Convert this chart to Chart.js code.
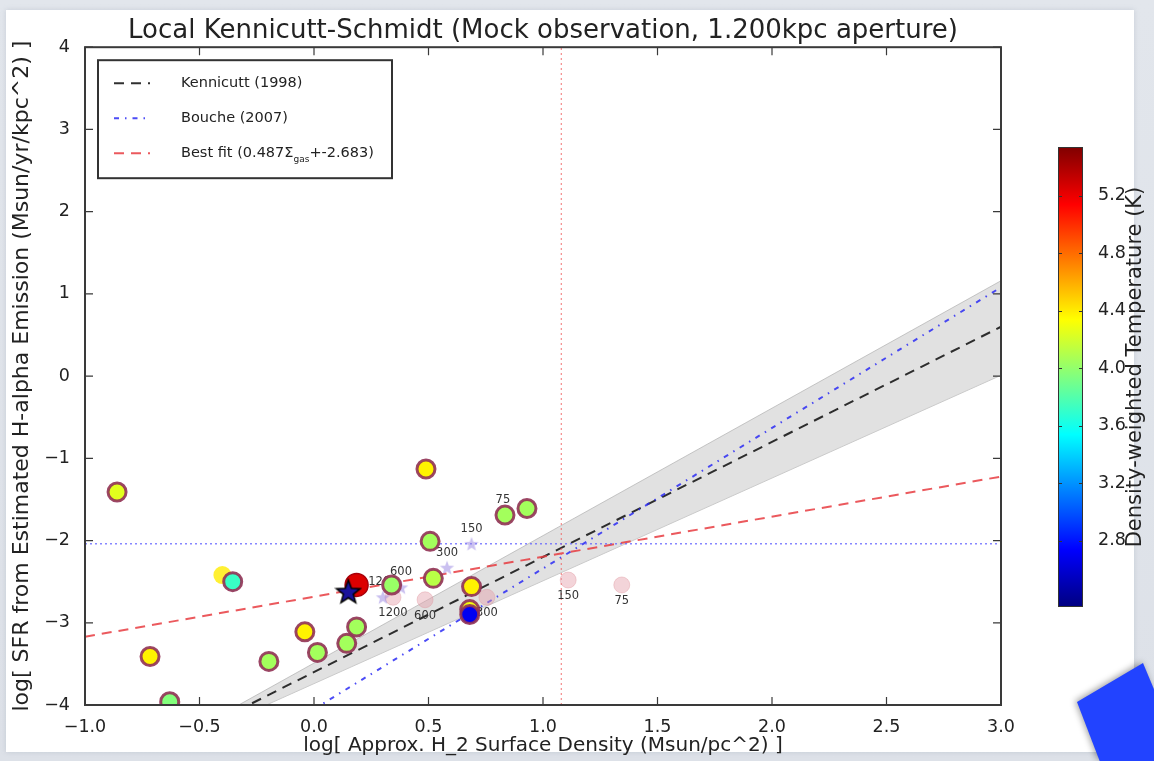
<!DOCTYPE html>
<html>
<head>
<meta charset="utf-8">
<title>Local Kennicutt-Schmidt</title>
<script src="https://cdn.jsdelivr.net/npm/chart.js@4/dist/chart.umd.min.js"></script>
<style>
  html, body { margin: 0; padding: 0; }
  body {
    width: 1154px; height: 761px; overflow: hidden; position: relative;
    background: linear-gradient(180deg, #e2e6ec 0%, #dde1e8 100%);
  }
  #sheet {
    position: absolute; left: 6px; top: 10px; width: 1128px; height: 742px;
    background: #fff; box-shadow: 0 0 5px rgba(120, 130, 150, 0.25);
  }
  canvas { position: absolute; left: 0; top: 0; }
  #tab {
    position: absolute; left: 0; top: 0; width: 1154px; height: 761px;
    background: #2243ff;
    clip-path: polygon(1077px 702px, 1143px 663px, 1190px 775px, 1105px 775px);
  }
  #tabShade {
    position: absolute; left: 0; top: 0; width: 1154px; height: 761px;
    filter: drop-shadow(-2px -1px 3px rgba(0, 0, 0, 0.35));
  }
</style>
</head>
<body>
<div id="sheet"></div>
<canvas id="ks" width="1154" height="761"></canvas>
<canvas id="cbar" width="1154" height="761"></canvas>
<div id="tabShade"><div id="tab"></div></div>
<script>
// axis ticks
const xTicks = [-1.0, -0.5, 0.0, 0.5, 1.0, 1.5, 2.0, 2.5, 3.0];
const yTicks = [-4, -3, -2, -1, 0, 1, 2, 3, 4];
const cbTicks = [2.8, 3.2, 3.6, 4.0, 4.4, 4.8, 5.2];

// mock apertures: log gas surface density, log SFR, density-weighted temperature
const cellX = [-0.86, -0.355, -0.716, -0.63, -0.197, -0.04, 0.015, 0.143, 0.186, 0.339, 0.507, 0.521, 0.489, 0.688, 0.68, 0.68, 0.834, 0.93];
const cellY = [-1.41, -2.50, -3.41, -3.96, -3.47, -3.11, -3.36, -3.25, -3.05, -2.54, -2.01, -2.46, -1.13, -2.56, -2.84, -2.90, -1.69, -1.61];
const cellT = [4.25, 3.72, 4.38, 3.95, 4.05, 4.38, 4.05, 4.05, 4.05, 4.02, 4.05, 4.12, 4.38, 4.38, 4.30, 2.70, 4.05, 4.05];

// one aperture plotted without an edge
const bareX = [-0.40];
const bareY = [-2.42];
const bareT = [4.40];

// the hot central aperture and the galaxy-wide value
const hotX = [0.186];
const hotY = [-2.54];
const hotT = [5.25];
const totalX = [0.15];
const totalY = [-2.62];

// aperture sizes (pc) of the faint comparison points
const sizeTags = ['75', '150', '300', '600', '1200'];
const starX = [0.825, 0.688, 0.581, 0.380, 0.301];
const starY = [-1.69, -2.04, -2.33, -2.57, -2.69];
const ringX = [1.344, 1.11, 0.755, 0.485, 0.345];
const ringY = [-2.54, -2.48, -2.69, -2.72, -2.69];

// relations
const kennX = [-1.0, 3.0];
const kennY = [-5.0, 0.6];
const bandX = [-1.0, 3.0];
const bandHi = [-5.04, 1.16];
const bandLo = [-4.99, 0.01];
const boucheX = [0.0, 3.0];
const boucheY = [-4.05, 1.08];
const fitX = [-1.0, 3.0];
const fitY = [-3.170, -1.222];
const sfrCutX = [-1.0, 3.0];
const sfrCutY = [-2.04, -2.04];
const gasCutX = [1.08, 1.08];
const gasCutY = [-4.0, 4.0];

const cbMin = 2.34, cbMax = 5.54;
const FONT = "'DejaVu Sans', 'Liberation Sans', sans-serif";
const INK = '#222';

function jet(v, a = 1) {
  const t = (v - cbMin) / (cbMax - cbMin);
  const c = (k) => Math.round(255 * Math.max(0, Math.min(1, 1.5 - Math.abs(4 * t - k))));
  return `rgba(${c(3)},${c(2)},${c(1)},${a})`;
}

const pts = (xs, ys) => xs.map((x, i) => ({ x, y: ys[i] }));

function starImage(size, fill, edge) {
  const c = document.createElement('canvas');
  c.width = c.height = size;
  const g = c.getContext('2d');
  const R = size / 2 - 1.5, r = R * 0.42, cx = size / 2, cy = size / 2 + R * 0.08;
  g.beginPath();
  for (let i = 0; i < 10; i++) {
    const a = -Math.PI / 2 + i * Math.PI / 5;
    const rr = i % 2 ? r : R;
    g.lineTo(cx + rr * Math.cos(a), cy + rr * Math.sin(a));
  }
  g.closePath();
  g.fillStyle = fill;
  g.fill();
  if (edge) { g.strokeStyle = edge; g.lineWidth = 1.5; g.stroke(); }
  return c;
}

function relation(label, xs, ys, color, dash, width, order) {
  return {
    type: 'line', label, data: pts(xs, ys), borderColor: color, borderDash: dash,
    borderWidth: width, pointRadius: 0, fill: false, tension: 0, order,
  };
}

const kenn = relation('Kennicutt (1998)', kennX, kennY, 'rgba(25,25,25,0.9)', [10, 7], 2, 7);
const bouche = relation('Bouche (2007)', boucheX, boucheY, 'rgba(45,45,245,0.85)', [5, 6, 1.5, 6], 2, 7);
const fit = relation('Best fit', fitX, fitY, 'rgba(232,60,65,0.85)', [10, 7], 2, 7);

// frame with inward ticks, like the rest of the axes
const framePlugin = {
  id: 'frame',
  afterDraw(chart) {
    const { ctx, chartArea: a, scales } = chart;
    ctx.save();
    ctx.strokeStyle = '#3a3a3a';
    ctx.lineWidth = 1.2;
    ctx.beginPath();
    scales.x.ticks.forEach((t) => {
      const px = scales.x.getPixelForValue(t.value);
      ctx.moveTo(px, a.bottom); ctx.lineTo(px, a.bottom - 8);
      ctx.moveTo(px, a.top); ctx.lineTo(px, a.top + 8);
    });
    scales.y.ticks.forEach((t) => {
      const py = scales.y.getPixelForValue(t.value);
      ctx.moveTo(a.left, py); ctx.lineTo(a.left + 8, py);
      ctx.moveTo(a.right, py); ctx.lineTo(a.right - 8, py);
    });
    ctx.stroke();
    ctx.lineWidth = 2;
    ctx.strokeRect(a.left, a.top, a.right - a.left, a.bottom - a.top);
    ctx.restore();
  },
};

// legend box in the upper left corner of the axes
const legendPlugin = {
  id: 'boxLegend',
  afterDraw(chart) {
    const { ctx, chartArea: a } = chart;
    const x0 = a.left + 13, y0 = a.top + 13, w = 294, h = 118;
    ctx.save();
    ctx.fillStyle = '#fff';
    ctx.fillRect(x0, y0, w, h);
    ctx.strokeStyle = '#333';
    ctx.lineWidth = 2;
    ctx.strokeRect(x0, y0, w, h);
    const rows = [kenn, bouche, fit];
    const big = `14.5px ${FONT}`;
    ctx.font = big;
    ctx.fillStyle = INK;
    ctx.textBaseline = 'middle';
    rows.forEach((ds, i) => {
      const y = y0 + 23 + i * 35;
      ctx.strokeStyle = ds.borderColor;
      ctx.lineWidth = ds.borderWidth;
      ctx.setLineDash(ds.borderDash);
      ctx.beginPath();
      ctx.moveTo(x0 + 16, y); ctx.lineTo(x0 + 52, y);
      ctx.stroke();
      ctx.setLineDash([]);
      let tx = x0 + 83;
      if (ds === fit) {
        const head = 'Best fit (0.487\u03A3';
        ctx.fillText(head, tx, y);
        tx += ctx.measureText(head).width;
        ctx.font = `9px ${FONT}`;
        ctx.fillText('gas', tx, y + 6);
        tx += ctx.measureText('gas').width;
        ctx.font = big;
        ctx.fillText('+-2.683)', tx, y);
      } else {
        ctx.fillText(ds.label, tx, y);
      }
    });
    ctx.restore();
  },
};

// aperture-size tags beside the faint points
const tagPlugin = {
  id: 'tags',
  afterDatasetDraw(chart, args) {
    const ds = chart.data.datasets[args.index];
    if (!ds.tags) return;
    const { ctx } = chart;
    ctx.save();
    ctx.font = `11.5px ${FONT}`;
    ctx.fillStyle = '#333';
    ctx.textAlign = 'center';
    ctx.textBaseline = 'middle';
    args.meta.data.forEach((el, i) => ctx.fillText(ds.tags[i], el.x, el.y + ds.tagShift));
    ctx.restore();
  },
};

const tickFmt = (digits) => (v) => (v < 0 ? '\u2212' : '') + Math.abs(v).toFixed(digits);

new Chart(document.getElementById('ks'), {
  type: 'scatter',
  data: {
    datasets: [
      {
        label: 'total', data: pts(totalX, totalY), order: 1,
        pointStyle: starImage(28, '#1a129c', '#000'), pointRadius: 14,
      },
      {
        label: 'hot', data: pts(hotX, hotY), order: 2,
        backgroundColor: hotT.map((t) => jet(t)), borderColor: '#a8000a', borderWidth: 1.5,
        pointRadius: 11.5,
      },
      {
        label: 'apertures', data: pts(cellX, cellY), order: 3,
        backgroundColor: cellT.map((t) => jet(t)), borderColor: 'rgba(145,50,85,0.9)',
        borderWidth: 3, pointRadius: 9,
      },
      {
        label: 'bare', data: pts(bareX, bareY), order: 4,
        backgroundColor: bareT.map((t) => jet(t, 0.8)), borderWidth: 0, pointRadius: 9,
      },
      {
        label: 'stars', data: pts(starX, starY), order: 5,
        pointStyle: starImage(18, 'rgba(150,130,225,0.5)'), pointRadius: 9,
        tags: sizeTags, tagShift: -15,
      },
      {
        label: 'rings', data: pts(ringX, ringY), order: 6,
        backgroundColor: 'rgba(228,160,170,0.45)', borderColor: 'rgba(220,140,150,0.35)',
        borderWidth: 1, pointRadius: 8, tags: sizeTags, tagShift: 16,
      },
      relation('sfr cut', sfrCutX, sfrCutY, 'rgba(95,95,255,0.75)', [2, 3], 1.5, 7),
      relation('gas cut', gasCutX, gasCutY, 'rgba(240,90,90,0.7)', [2, 3], 1.2, 7),
      fit,
      bouche,
      kenn,
      {
        type: 'line', label: 'band hi', data: pts(bandX, bandHi), order: 9,
        borderColor: 'rgba(165,165,165,0.6)', borderWidth: 1, pointRadius: 0,
        backgroundColor: 'rgba(205,205,205,0.6)', fill: '+1', tension: 0,
      },
      {
        type: 'line', label: 'band lo', data: pts(bandX, bandLo), order: 9,
        borderColor: 'rgba(165,165,165,0.6)', borderWidth: 1, pointRadius: 0,
        fill: false, tension: 0,
      },
    ],
  },
  options: {
    animation: false,
    responsive: false,
    layout: { padding: { left: 0, right: 153, top: 0, bottom: 0 } },
    plugins: {
      legend: { display: false },
      tooltip: { enabled: false },
      title: {
        display: true, fullSize: false,
        text: 'Local Kennicutt-Schmidt (Mock observation, 1.200kpc aperture)',
        color: INK, font: { family: FONT, size: 26, weight: 'normal', lineHeight: 1.2 },
        padding: { top: 16, bottom: 0 },
      },
    },
    scales: {
      x: {
        type: 'linear', position: 'bottom', min: -1, max: 3,
        afterBuildTicks: (s) => { s.ticks = xTicks.map((value) => ({ value })); },
        afterFit: (s) => { s.height = 56; },
        grid: { display: false }, border: { display: false },
        ticks: { callback: tickFmt(1), color: INK, padding: 4, font: { family: FONT, size: 17.5 } },
        title: {
          display: true, text: 'log[ Approx. H_2 Surface Density (Msun/pc^2) ]',
          color: INK, font: { family: FONT, size: 20, lineHeight: 1.2 },
          padding: { top: 0, bottom: 3 },
        },
      },
      y: {
        type: 'linear', position: 'left', min: -4, max: 4,
        afterBuildTicks: (s) => { s.ticks = yTicks.map((value) => ({ value })); },
        afterFit: (s) => { s.width = 85; },
        grid: { display: false }, border: { display: false },
        ticks: { callback: tickFmt(0), color: INK, padding: 7, font: { family: FONT, size: 17.5 } },
        title: {
          display: true, text: 'log[ SFR from Estimated H-alpha Emission (Msun/yr/kpc^2) ]',
          color: INK, font: { family: FONT, size: 22, lineHeight: 1.2 },
          padding: { top: 9, bottom: 0 },
        },
      },
    },
  },
  plugins: [tagPlugin, framePlugin, legendPlugin],
});

// colour bar: jet ramp painted into the chart area of its own axis
const rampPlugin = {
  id: 'ramp',
  beforeDraw(chart) {
    const { ctx, chartArea: a, scales } = chart;
    const g = ctx.createLinearGradient(0, a.bottom, 0, a.top);
    for (let i = 0; i <= 32; i++) g.addColorStop(i / 32, jet(cbMin + (cbMax - cbMin) * i / 32));
    ctx.save();
    ctx.fillStyle = g;
    ctx.fillRect(a.left, a.top, a.right - a.left, a.bottom - a.top);
    ctx.strokeStyle = '#333';
    ctx.lineWidth = 1;
    ctx.strokeRect(a.left + 0.5, a.top + 0.5, a.right - a.left - 1, a.bottom - a.top - 1);
    ctx.beginPath();
    scales.y.ticks.forEach((t) => {
      const py = Math.round(scales.y.getPixelForValue(t.value)) + 0.5;
      ctx.moveTo(a.right, py); ctx.lineTo(a.right - 4, py);
      ctx.moveTo(a.left, py); ctx.lineTo(a.left + 4, py);
    });
    ctx.stroke();
    ctx.translate(1136, 367);
    ctx.rotate(-Math.PI / 2);
    ctx.font = `21px ${FONT}`;
    ctx.fillStyle = INK;
    ctx.textAlign = 'center';
    ctx.textBaseline = 'middle';
    ctx.fillText('Density-weighted Temperature (K)', 0, 0);
    ctx.restore();
  },
};

new Chart(document.getElementById('cbar'), {
  type: 'scatter',
  data: { datasets: [] },
  options: {
    animation: false,
    responsive: false,
    layout: { padding: { left: 1058, right: 0, top: 147, bottom: 154 } },
    plugins: { legend: { display: false }, tooltip: { enabled: false } },
    scales: {
      x: { display: false, min: 0, max: 1 },
      y: {
        position: 'right', min: cbMin, max: cbMax,
        afterBuildTicks: (s) => { s.ticks = cbTicks.map((value) => ({ value })); },
        afterFit: (s) => { s.width = 71; },
        grid: { display: false }, border: { display: false },
        ticks: { callback: (v) => v.toFixed(1), color: INK, padding: 7, font: { family: FONT, size: 17.5 } },
      },
    },
  },
  plugins: [rampPlugin],
});
</script>
</body>
</html>
